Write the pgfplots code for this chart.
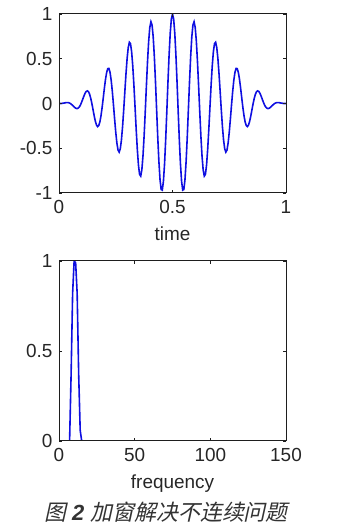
\documentclass[border=0pt]{standalone}
\usepackage{fontspec}
\setmainfont{Liberation Sans}
\newfontfamily\cjk[FakeSlant=0.22]{Noto Sans CJK SC}
\usepackage{pgfplots}
\pgfplotsset{compat=1.18}
\usepackage{pgfplotstable}
\definecolor{mblue}{RGB}{15,15,225}
\definecolor{axgray}{RGB}{30,30,30}

\pgfplotstableread{
t s
0.000 0.000
0.005 0.000
0.010 0.000
0.015 0.002
0.020 0.004
0.025 0.006
0.030 0.009
0.035 0.010
0.040 0.010
0.045 0.006
0.050 0.000
0.055 -0.010
0.060 -0.022
0.065 -0.034
0.070 -0.046
0.075 -0.054
0.080 -0.057
0.085 -0.051
0.090 -0.037
0.095 -0.014
0.100 0.017
0.105 0.051
0.110 0.085
0.115 0.115
0.120 0.135
0.125 0.141
0.130 0.131
0.135 0.102
0.140 0.056
0.145 -0.003
0.150 -0.070
0.155 -0.138
0.160 -0.197
0.165 -0.239
0.170 -0.258
0.175 -0.247
0.180 -0.207
0.185 -0.137
0.190 -0.044
0.195 0.063
0.200 0.173
0.205 0.272
0.210 0.348
0.215 0.390
0.220 0.391
0.225 0.346
0.230 0.257
0.235 0.132
0.240 -0.016
0.245 -0.174
0.250 -0.321
0.255 -0.442
0.260 -0.520
0.265 -0.543
0.270 -0.506
0.275 -0.409
0.280 -0.260
0.285 -0.074
0.290 0.130
0.295 0.329
0.300 0.501
0.305 0.625
0.310 0.684
0.315 0.668
0.320 0.577
0.325 0.417
0.330 0.204
0.335 -0.039
0.340 -0.288
0.345 -0.512
0.350 -0.688
0.355 -0.792
0.360 -0.811
0.365 -0.740
0.370 -0.585
0.375 -0.361
0.380 -0.090
0.385 0.197
0.390 0.469
0.395 0.696
0.400 0.850
0.405 0.913
0.410 0.877
0.415 0.743
0.420 0.525
0.425 0.245
0.430 -0.066
0.435 -0.375
0.440 -0.646
0.445 -0.849
0.450 -0.961
0.455 -0.968
0.460 -0.869
0.465 -0.674
0.470 -0.403
0.475 -0.087
0.480 0.241
0.485 0.543
0.490 0.787
0.495 0.945
0.500 1.000
0.505 0.945
0.510 0.787
0.515 0.543
0.520 0.241
0.525 -0.087
0.530 -0.403
0.535 -0.674
0.540 -0.869
0.545 -0.968
0.550 -0.961
0.555 -0.849
0.560 -0.646
0.565 -0.375
0.570 -0.066
0.575 0.245
0.580 0.525
0.585 0.743
0.590 0.877
0.595 0.913
0.600 0.850
0.605 0.696
0.610 0.469
0.615 0.197
0.620 -0.090
0.625 -0.361
0.630 -0.585
0.635 -0.740
0.640 -0.811
0.645 -0.792
0.650 -0.688
0.655 -0.512
0.660 -0.288
0.665 -0.039
0.670 0.204
0.675 0.417
0.680 0.577
0.685 0.668
0.690 0.684
0.695 0.625
0.700 0.501
0.705 0.329
0.710 0.130
0.715 -0.074
0.720 -0.260
0.725 -0.409
0.730 -0.506
0.735 -0.543
0.740 -0.520
0.745 -0.442
0.750 -0.321
0.755 -0.174
0.760 -0.016
0.765 0.132
0.770 0.257
0.775 0.346
0.780 0.391
0.785 0.390
0.790 0.348
0.795 0.272
0.800 0.173
0.805 0.063
0.810 -0.044
0.815 -0.137
0.820 -0.207
0.825 -0.247
0.830 -0.258
0.835 -0.239
0.840 -0.197
0.845 -0.138
0.850 -0.070
0.855 -0.003
0.860 0.056
0.865 0.102
0.870 0.131
0.875 0.141
0.880 0.135
0.885 0.115
0.890 0.085
0.895 0.051
0.900 0.017
0.905 -0.014
0.910 -0.037
0.915 -0.051
0.920 -0.057
0.925 -0.054
0.930 -0.046
0.935 -0.034
0.940 -0.022
0.945 -0.010
0.950 0.000
0.955 0.006
0.960 0.010
0.965 0.010
0.970 0.009
0.975 0.006
0.980 0.004
0.985 0.002
0.990 0.000
0.995 0.000
1.000 0.000
}\timedata

\pgfplotstableread{
f a
7 0.0
8 0.37
9 0.82
10 1.0
11 0.99
12 0.82
13 0.37
14 0.06
15 0
}\freqdata

\pgfplotsset{mstyle/.style={
  scale only axis, width=227bp,
  axis on top,
  tick align=inside, major tick length=3bp,
  axis line style={line width=1bp, axgray},
  tick style={line width=0.9bp, axgray},
  ticklabel style={font=\fontsize{19}{19}\selectfont, text=black!85},
  label style={font=\fontsize{19}{19}\selectfont, text=black!85},
  xticklabel style={yshift=-4bp},
  yticklabel style={xshift=-3bp},
  xlabel style={yshift=-6bp},
}}

\begin{document}
\begin{tikzpicture}[x=1bp,y=1bp]
\useasboundingbox (0,0) rectangle (352,532);
\begin{axis}[mstyle, at={(59bp,339bp)}, anchor=south west, height=179bp,
  xmin=0, xmax=1, ymin=-1, ymax=1,
  xtick={0,0.5,1}, xticklabels={0,0.5,1},
  ytick={-1,-0.5,0,0.5,1}, yticklabels={-1,-0.5,0,0.5,1},
  xlabel={time}]
\addplot+[no markers, mblue, line width=1.6bp] table[x=t,y=s] {\timedata};
\end{axis}
\begin{axis}[mstyle, at={(59bp,91bp)}, anchor=south west, height=180bp,
  xmin=0, xmax=150, ymin=0, ymax=1,
  xtick={0,50,100,150}, xticklabels={0,50,100,150},
  ytick={0,0.5,1}, yticklabels={0,0.5,1},
  xlabel={frequency}]
\addplot+[no markers, mblue, line width=1.6bp] table[x=f,y=a] {\freqdata};
\end{axis}
\node[font=\fontsize{22}{22}\selectfont, text=black!80] at (166,20) {{\cjk 图} {\bfseries\itshape 2} {\cjk 加窗解决不连续问题}};
\end{tikzpicture}
\end{document}
